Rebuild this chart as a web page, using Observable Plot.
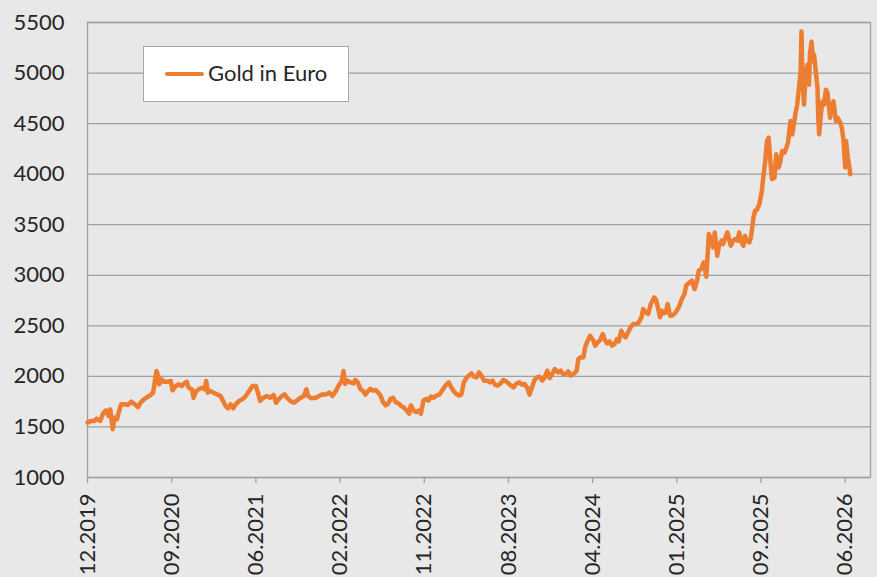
<!DOCTYPE html>
<html>
<head>
<meta charset="utf-8">
<script src="https://cdn.jsdelivr.net/npm/d3@7"></script>
<script src="https://cdn.jsdelivr.net/npm/@observablehq/plot@0.6"></script>
<style>
  body { margin: 0; background: #e8e8e8; }
  #wrap { position: relative; width: 877px; height: 577px; font-family: Lato, sans-serif; overflow: hidden; }
  #legend { position: absolute; left: 143px; top: 46px; width: 206px; height: 56px; background: #ffffff; border: 1px solid #a6a6a6; box-sizing: border-box; }
  #swatch { position: absolute; left: 165px; top: 72px; width: 39px; height: 4px; background: #ED7D31; border-radius: 2px; }
  #ltext { position: absolute; left: 208px; top: 59px; font-size: 22px; line-height: normal; color: #262626; white-space: nowrap; }
</style>
</head>
<body>
<div id="wrap"></div>
<script>
// x position: trading-day axis, 100 units between labelled ticks
const t = [
  0,4,8,11,15,19,22,25,27,30,
  32,35,37,40,44,48,52,56,60,63,
  67,71,75,78,80,82,84,85,88,91,
  95,99,101,105,108,112,116,118,120,124,
  126,129,132,136,139,141,143,146,150,154,
  158,161,164,167,170,173,176,180,184,188,
  192,196,200,203,205,209,213,217,221,224,
  227,231,234,237,241,245,249,253,257,260,
  262,266,271,275,279,283,287,291,295,298,
  302,304,
  306,309,312,316,318,321,324,327,330,333,
  336,339,342,345,348,351,354,357,360,363,
  366,369,372,376,379,382,384,388,391,394,
  396,399,403,405,408,411,414,418,421,425,
  429,432,435,438,441,444,447,450,453,456,
  459,462,465,468,471,475,478,481,484,487,
  490,494,497,500,503,506,509,513,516,519,
  522,525,528,531,534,537,540,543,546,549,
  552,555,559,562,565,568,571,574,578,581,
  583,585,
  589,591,594,597,601,603,606,609,612,614,
  617,620,623,626,629,631,634,637,639,642,
  645,648,651,654,658,660,663,666,669,673,
  675,677,680,682,684,687,689,692,694,697,
  700,703,706,709,711,715,718,721,724,726,
  729,732,735,738,741,743,745,748,750,753,
  755,757,760,762,764,767,769,772,774,776,
  779,781,783,786,788,791,793,795,798,
  801,803,805,807,809,811,813,816,818,821,
  823,825,828,830,832,835,837,839,841,843,
  845,847,848,849,851,853,855,857,858,860,
  862,863,865,867,868,869,871,873,875,877,
  879,882,884,886,889,891,894,896,898,900,
  901,903,905,906
];
const goldEur = [
  1543,1559,1559,1582,1559,1641,1664,1608,1674,1477,
  1592,1576,1641,1724,1724,1717,1750,1724,1697,1740,
  1773,1796,1816,1839,1954,2053,2003,1921,1970,1947,
  1947,1954,1862,1905,1921,1905,1938,1947,1888,1872,
  1789,1855,1872,1888,1872,1954,1839,1855,1839,1822,
  1806,1757,1707,1684,1724,1684,1724,1757,1773,1806,
  1855,1905,1905,1822,1757,1789,1806,1789,1816,1740,
  1773,1806,1822,1789,1757,1740,1763,1789,1806,1872,
  1806,1783,1789,1806,1822,1822,1839,1806,1855,1905,
  1954,2053,
  1925,1958,1941,1931,1964,1941,1876,1859,1820,1853,
  1876,1859,1866,1843,1810,1745,1712,1729,1778,1788,
  1745,1735,1712,1690,1663,1631,1712,1657,1647,1663,
  1631,1761,1778,1761,1801,1788,1810,1820,1859,1908,
  1941,1892,1853,1827,1810,1820,1941,1984,2007,2029,
  1997,1990,2039,2007,1958,1958,1941,1958,1918,1908,
  1925,1964,1951,1931,1908,1892,1925,1941,1918,1925,
  1892,1820,1892,1964,1990,1997,1958,1990,2056,1984,
  2023,2072,2039,2056,2023,2023,2049,2007,2029,2056,
  2170,2186,
  2188,2287,2353,2402,2353,2304,2337,2360,2419,2370,
  2327,2347,2304,2320,2370,2347,2452,2402,2386,2435,
  2485,2518,2518,2524,2584,2666,2633,2617,2716,2781,
  2765,2699,2584,2650,2623,2633,2716,2600,2600,2617,
  2650,2699,2765,2814,2897,2930,2946,2864,2946,3045,
  3062,3128,2986,3408,3342,3276,3424,3193,3292,3342,
  3309,3358,3424,3358,3292,3342,3358,3342,3424,3342,
  3292,3391,3342,3325,3375,3573,3639,3645,3704,
  3836,4000,4131,4328,4361,4131,3951,3967,4197,4066,
  4131,4229,4213,4262,4311,4525,4393,4492,4607,4688,
  4852,5016,5410,5016,4688,4984,5082,4885,5180,5311,
  5115,5180,5016,4852,4557,4393,4590,4721,4688,4836,
  4803,4557,4656,4721,4525,4557,4508,4459,4328,4066,
  4328,4164,4066,4000
];
const xTickPos = [0,100,200,300,400,500,600,700,800,900];
const xTickLabels = ["12.2019","09.2020","06.2021","02.2022","11.2022","08.2023","04.2024","01.2025","09.2025","06.2026"];
const yTicks = [1000,1500,2000,2500,3000,3500,4000,4500,5000,5500];
const seriesName = "Gold in Euro";

const data = t.map((d, i) => ({t: d, v: goldEur[i]}));

const chart = Plot.plot({
  width: 877,
  height: 577,
  marginLeft: 87,
  marginRight: 7,
  marginTop: 22,
  marginBottom: 100,
  style: {background: "transparent", fontFamily: "Lato, sans-serif", fontSize: "22px", color: "#262626", overflow: "visible"},
  x: {type: "linear", domain: [0, 930], label: null},
  y: {domain: [1000, 5500], label: null},
  marks: [
    Plot.gridY(yTicks, {stroke: "#a0a0a0", strokeOpacity: 1, strokeWidth: 1.3}),
    Plot.frame({stroke: "#a0a0a0", strokeWidth: 1.3}),
    Plot.axisY(yTicks, {label: null, tickSize: 0, tickPadding: 23, fontSize: 22, fill: "#262626", tickFormat: d => String(d)}),
    Plot.axisX(xTickPos, {label: null, tickSize: 6, tickPadding: 10, tickRotate: -90, fontSize: 22, stroke: "#a0a0a0", strokeOpacity: 1, strokeWidth: 1.3, fill: "#262626",
      tickFormat: d => xTickLabels[xTickPos.indexOf(d)]}),
    Plot.line(data, {x: "t", y: "v", stroke: "#ED7D31", strokeWidth: 4.5, strokeLinejoin: "round", strokeLinecap: "round"})
  ]
});

const wrap = document.getElementById("wrap");
wrap.appendChild(chart);
const legend = document.createElement("div"); legend.id = "legend"; wrap.appendChild(legend);
const sw = document.createElement("div"); sw.id = "swatch"; wrap.appendChild(sw);
const lt = document.createElement("div"); lt.id = "ltext"; lt.textContent = seriesName; wrap.appendChild(lt);
</script>
</body>
</html>
